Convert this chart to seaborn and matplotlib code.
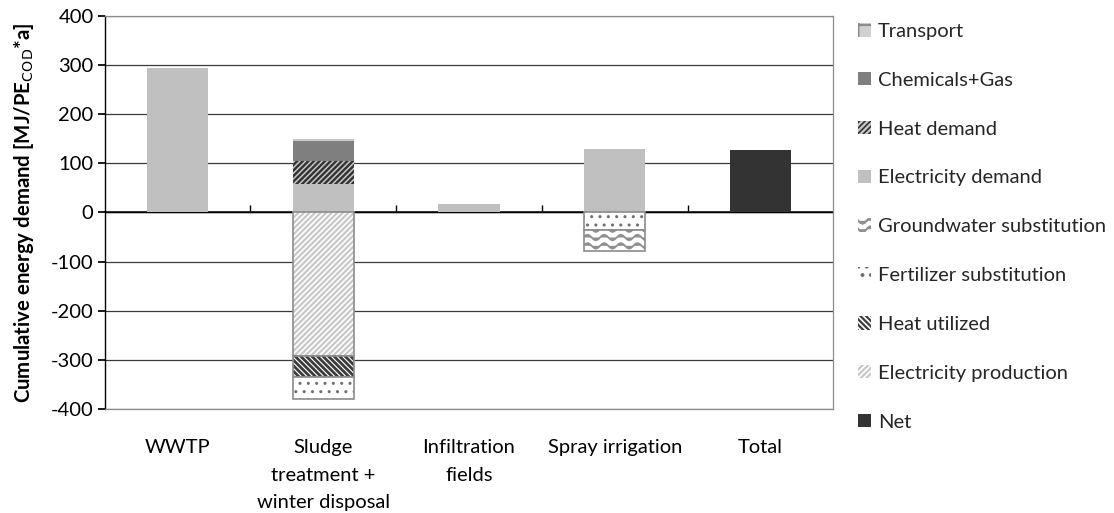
import numpy as np
import pandas as pd
import matplotlib
matplotlib.use("Agg")
import matplotlib.pyplot as plt
from matplotlib.patches import Patch
from matplotlib.path import Path
from matplotlib import hatch as mhatch
import seaborn as sns

categories = ["WWTP", "Sludge\ntreatment +\nwinter disposal", "Infiltration\nfields",
              "Spray irrigation", "Total"]
electricity_demand = [293, 57, 18, 130, 0]
heat_demand = [0, 47, 0, 0, 0]
chemicals_gas = [0, 42, 0, 0, 0]
transport = [0, 3, 0, 0, 0]
electricity_production = [0, -292, 0, 0, 0]
heat_utilized = [0, -43, 0, 0, 0]
fertilizer_substitution = [0, -45, 0, -35, 0]
groundwater_substitution = [0, 0, 0, -44, 0]
net = [0, 0, 0, 0, 128]
y_ticks = [-400, -300, -200, -100, 0, 100, 200, 300, 400]


# wavy hatch (Excel "wave" pattern), registered on the 'O' character
class WaveHatch(mhatch.HatchPatternBase):
    def __init__(self, hatch, density):
        self.num_rows = int(hatch.count('O') * density)
        self.pts = 49
        self.num_vertices = self.num_rows * self.pts

    def set_vertices_and_codes(self, vertices, codes):
        xs = np.linspace(0.0, 1.0, self.pts)
        ys = 0.028 * np.sin(2 * np.pi * 6 * xs)
        rows = (np.arange(self.num_rows) + 0.5) / self.num_rows
        for i, r in enumerate(rows):
            sl = slice(i * self.pts, (i + 1) * self.pts)
            vertices[sl, 0] = xs
            vertices[sl, 1] = r + ys
            codes[sl] = Path.LINETO
            codes[i * self.pts] = Path.MOVETO


mhatch._hatch_types = [t for t in mhatch._hatch_types if t is not mhatch.LargeCircles] + [WaveHatch]

sns.set_theme(style="white")
plt.rcParams['font.family'] = ['Lato', 'DejaVu Sans']
plt.rcParams['axes.unicode_minus'] = False
plt.rcParams['hatch.linewidth'] = 1.6

FS = 14.5
fig = plt.figure(figsize=(11.14, 5.13), dpi=100)
ax = fig.add_axes([0.094, 0.203, 0.654, 0.766])

# style: (name, values, face, hatch, hatchcolor, outline, hatch linewidth)
series = [
    ("Electricity demand", electricity_demand, "#c0c0c0", None, None, None, 1),
    ("Heat demand", heat_demand, "#333333", "//////", "#c8c8c8", None, 1.1),
    ("Chemicals+Gas", chemicals_gas, "#7f7f7f", None, None, None, 1),
    ("Transport", transport, "#c8c8c8", None, None, None, 1),
    ("Electricity production", electricity_production, "white", "//////", "#c8c8c8", "#8c8c8c", 1.6),
    ("Heat utilized", heat_utilized, "white", "\\\\\\\\\\\\", "#3c3c3c", "#8c8c8c", 2.0),
    ("Fertilizer substitution", fertilizer_substitution, "white", "..", "#707070", "#8c8c8c", 1.0),
    ("Groundwater substitution", groundwater_substitution, "white", "OO", "#909090", "#8c8c8c", 1.3),
    ("Net", net, "#333333", None, None, None, 1),
]

pos_base = np.zeros(len(categories))
neg_base = np.zeros(len(categories))
width = 0.42
for name, vals, face, hatch, hcol, outline, hlw in series:
    v = np.array(vals, dtype=float)
    mask = v != 0
    if not mask.any():
        continue
    bottoms = np.where(v > 0, pos_base, neg_base)
    df = pd.DataFrame({"cat": np.array(categories)[mask], "val": v[mask]})
    kw = dict(data=df, x="cat", y="val", order=categories, ax=ax, width=width,
              errorbar=None, bottom=bottoms[mask], zorder=3)
    with plt.rc_context({'hatch.linewidth': hlw}):
        if hatch is None:
            sns.barplot(color=face, saturation=1, linewidth=0, **kw)
        else:
            sns.barplot(color=face, saturation=1, hatch=hatch, edgecolor=hcol,
                        linewidth=0, **kw)
            if outline:
                sns.barplot(color="white", fill=False, edgecolor=outline,
                            linewidth=1.2, **kw)
    pos_base = np.where(v > 0, pos_base + v, pos_base)
    neg_base = np.where(v < 0, neg_base + v, neg_base)

ax.set_ylim(-400, 400)
ax.set_xlim(-0.5, len(categories) - 0.5)
ax.set_yticks(y_ticks)
ax.yaxis.grid(True, color="#3a3a3a", linewidth=0.9, zorder=0)
ax.set_axisbelow(True)
ax.tick_params(axis="y", labelsize=FS, length=5, direction="out", left=True,
               color="black", pad=3, labelcolor="black")
ax.set_xticks(range(len(categories)))
ax.set_xticklabels(categories, linespacing=1.73)
ax.tick_params(axis="x", labelsize=FS, length=0, pad=22, labelcolor="black")
ax.set_xlabel("")
ax.set_ylabel("Cumulative energy demand [MJ/PE$_{\\mathrm{COD}}$*a]",
              fontsize=14.7, fontweight="bold", color="black")
ax.yaxis.set_label_coords(-0.095, 0.5)
for s in ["top", "right", "bottom"]:
    ax.spines[s].set_color("#8c8c8c")
    ax.spines[s].set_linewidth(0.9)
ax.spines["left"].set_color("black")
ax.spines["left"].set_linewidth(1.0)

ax.axhline(0, color="black", linewidth=1.0, zorder=2)
sec = ax.secondary_xaxis(0.5)
sec.set_xticks(np.arange(len(categories) - 1) + 0.5)
sec.set_xticklabels([])
sec.tick_params(axis="x", length=5, direction="out", color="black", width=1.0)
sec.spines["bottom"].set_visible(False)

legend_order = ["Transport", "Chemicals+Gas", "Heat demand", "Electricity demand",
                "Groundwater substitution", "Fertilizer substitution", "Heat utilized",
                "Electricity production", "Net"]
style = {s[0]: s for s in series}
handles = []
for n in legend_order:
    _, _, face, hatch, hcol, outline, hlw = style[n]
    if n == "Transport":
        handles.append(Patch(facecolor="#d0d0d0", edgecolor="#8a8a8a", hatch="+",
                             linewidth=0, label=n))
    elif hatch is None:
        handles.append(Patch(facecolor=face, linewidth=0, label=n))
    else:
        handles.append(Patch(facecolor=face, edgecolor=hcol, hatch=hatch,
                             linewidth=0, label=n))
leg = fig.legend(handles=handles, loc="upper left",
                 bbox_to_anchor=(858 / 1114, 1 - 23 / 513),
                 bbox_transform=fig.transFigure,
                 frameon=False, fontsize=FS, handlelength=0.65, handleheight=0.65,
                 handletextpad=0.35, labelspacing=1.58, borderaxespad=0, borderpad=0)

fig.savefig("out.png", dpi=100)
